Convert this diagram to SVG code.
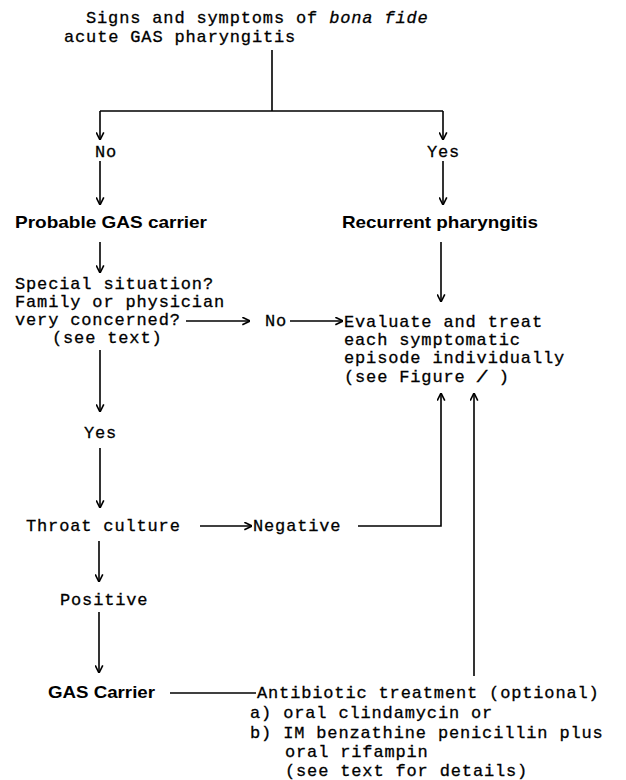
<svg xmlns="http://www.w3.org/2000/svg" width="626" height="780" viewBox="0 0 626 780">
<style>
.m{font-family:"Liberation Mono","Courier New",monospace;font-size:17px;letter-spacing:0.85px;fill:#000;stroke:#000;stroke-width:0.3}
.b{font-family:"Liberation Sans",Arial,Helvetica,sans-serif;font-size:17px;font-weight:bold;fill:#000}
.c{fill:none;stroke:#000;stroke-width:1.6}
</style>
<defs>
<marker id="ah" viewBox="0 0 10 10" refX="9.5" refY="5" markerWidth="9" markerHeight="9" markerUnits="userSpaceOnUse" orient="auto">
<path d="M1,0.8 L9.5,5 L1,9.2" fill="none" stroke="#000" stroke-width="1.8"/>
</marker>
</defs>
<rect width="626" height="780" fill="#fff"/>
<g id="connectors">
<path class="c" d="M272,50 V111 M100,111 H443"/>
<path class="c" d="M100,111 V140" marker-end="url(#ah)"/>
<path class="c" d="M443,111 V140" marker-end="url(#ah)"/>
<path class="c" d="M100,161 V205" marker-end="url(#ah)"/>
<path class="c" d="M443,161 V205" marker-end="url(#ah)"/>
<path class="c" d="M100,242 V273" marker-end="url(#ah)"/>
<path class="c" d="M441,242 V302" marker-end="url(#ah)"/>
<path class="c" d="M186,321 H250" marker-end="url(#ah)"/>
<path class="c" d="M290,321 H343" marker-end="url(#ah)"/>
<path class="c" d="M100,350 V412" marker-end="url(#ah)"/>
<path class="c" d="M100,448 V508" marker-end="url(#ah)"/>
<path class="c" d="M200,526 H252" marker-end="url(#ah)"/>
<path class="c" d="M358,526 H441 V393" marker-end="url(#ah)"/>
<path class="c" d="M474,676 V393" marker-end="url(#ah)"/>
<path class="c" d="M99,541 V582" marker-end="url(#ah)"/>
<path class="c" d="M99,612 V673" marker-end="url(#ah)"/>
<path class="c" d="M170,693 H256"/>
</g>
<g id="start"><text class="m" x="86" y="23">Signs and symptoms of <tspan font-style="italic">bona fide</tspan></text><text class="m" x="64" y="42">acute GAS pharyngitis</text></g>
<g id="no1"><text class="m" x="95" y="157">No</text></g>
<g id="yes1"><text class="m" x="427" y="157">Yes</text></g>
<g id="probable"><text class="b" x="15" y="228" textLength="192" lengthAdjust="spacingAndGlyphs">Probable GAS carrier</text></g>
<g id="recurrent"><text class="b" x="342" y="228" textLength="196" lengthAdjust="spacingAndGlyphs">Recurrent pharyngitis</text></g>
<g id="special"><text class="m" x="15" y="289">Special situation?</text><text class="m" x="15" y="307">Family or physician</text><text class="m" x="15" y="325">very concerned?</text><text class="m" x="52" y="343">(see text)</text></g>
<g id="no2"><text class="m" x="265" y="326">No</text></g>
<g id="evaluate"><text class="m" x="344" y="327">Evaluate and treat</text><text class="m" x="344" y="345">each symptomatic</text><text class="m" x="344" y="363">episode individually</text><text class="m" x="344" y="382">(see Figure <tspan font-weight="bold" font-style="italic">/</tspan> )</text></g>
<g id="yes2"><text class="m" x="84" y="438">Yes</text></g>
<g id="throat"><text class="m" x="26" y="531">Throat culture</text></g>
<g id="negative"><text class="m" x="253" y="531">Negative</text></g>
<g id="positive"><text class="m" x="60" y="605">Positive</text></g>
<g id="carrier"><text class="b" x="48" y="698" textLength="107" lengthAdjust="spacingAndGlyphs">GAS Carrier</text></g>
<g id="antibiotic"><text class="m" x="257" y="698">Antibiotic treatment (optional)</text><text class="m" x="250" y="718">a) oral clindamycin or</text><text class="m" x="250" y="738">b) IM benzathine penicillin plus</text><text class="m" x="285" y="757">oral rifampin</text><text class="m" x="285" y="776">(see text for details)</text></g>
</svg>
